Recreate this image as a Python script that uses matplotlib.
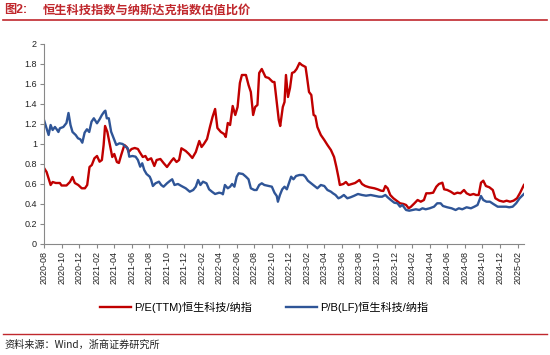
import matplotlib
matplotlib.use("Agg")
import matplotlib.pyplot as plt
import matplotlib.dates as mdates
import pandas as pd
from matplotlib.lines import Line2D

plt.rcParams['font.family'] = ['Liberation Sans', 'Noto Sans CJK SC', 'DejaVu Sans']

title_prefix = "图2:"
title_text = "恒生科技指数与纳斯达克指数估值比价"
source_text = "资料来源：Wind，浙商证券研究所"
label_pe = "P/E(TTM)恒生科技/纳指"
label_pb = "P/B(LF)恒生科技/纳指"

pe_dates = ["2020-08-01","2020-08-10","2020-08-24","2020-08-31","2020-09-11","2020-09-25","2020-10-01","2020-10-18",
"2020-10-30","2020-11-08","2020-11-16","2020-11-28","2020-12-10","2020-12-21","2020-12-29","2021-01-06","2021-01-14",
"2021-01-23","2021-02-01","2021-02-10","2021-02-18","2021-02-24","2021-03-01","2021-03-09","2021-03-17","2021-03-26",
"2021-04-02","2021-04-11","2021-04-18","2021-04-26","2021-05-07","2021-05-15","2021-05-22","2021-06-01","2021-06-12",
"2021-06-23","2021-06-29","2021-07-10","2021-07-19","2021-07-27","2021-08-08","2021-08-19","2021-08-27","2021-09-09",
"2021-09-20","2021-10-02","2021-10-17","2021-10-25","2021-11-04","2021-11-13","2021-11-21","2021-12-06","2021-12-17",
"2021-12-29","2022-01-10","2022-01-22","2022-01-30","2022-02-07","2022-02-18","2022-02-28","2022-03-09","2022-03-18",
"2022-03-26","2022-04-07","2022-04-18","2022-04-24","2022-05-01","2022-05-09","2022-05-18","2022-05-27","2022-06-04",
"2022-06-12","2022-06-19","2022-07-03","2022-07-12","2022-07-20","2022-07-28","2022-08-04","2022-08-12","2022-08-18",
"2022-08-27","2022-09-09","2022-09-20","2022-10-04","2022-10-10","2022-10-18","2022-10-25","2022-10-30","2022-11-08",
"2022-11-14","2022-11-19","2022-11-26","2022-12-03","2022-12-10","2022-12-18","2022-12-26","2023-01-05","2023-01-13",
"2023-01-26","2023-01-31","2023-02-07","2023-02-15","2023-02-23","2023-03-01","2023-03-08","2023-03-20","2023-04-01",
"2023-04-12","2023-04-24","2023-05-05","2023-05-13","2023-05-20","2023-05-25","2023-06-06","2023-06-15","2023-06-24",
"2023-07-06","2023-07-17","2023-08-01","2023-08-10","2023-08-21","2023-09-04","2023-09-22","2023-10-03","2023-10-15",
"2023-10-23","2023-10-30","2023-11-07","2023-11-16","2023-11-27","2023-12-08","2023-12-20","2024-01-01","2024-01-10",
"2024-01-19","2024-01-27","2024-02-08","2024-02-19","2024-03-01","2024-03-12","2024-03-20","2024-04-01","2024-04-13",
"2024-04-24","2024-05-03","2024-05-15","2024-05-21","2024-06-01","2024-06-13","2024-06-25","2024-07-06","2024-07-17",
"2024-07-29","2024-08-07","2024-08-19","2024-08-31","2024-09-09","2024-09-18","2024-09-26","2024-10-04","2024-10-13",
"2024-10-25","2024-11-06","2024-11-15","2024-11-29","2024-12-13","2024-12-24","2025-01-05","2025-01-17","2025-01-29",
"2025-02-09","2025-02-22"]
pe_values = [0.76,0.72,0.59,0.62,0.61,0.61,0.585,0.585,
0.62,0.67,0.61,0.59,0.557,0.557,0.59,0.77,0.79,
0.857,0.88,0.823,0.84,0.99,1.18,1.12,1.0,0.87,
0.9,0.82,0.81,0.89,0.99,0.97,0.92,0.95,0.96,
0.95,0.92,0.87,0.88,0.84,0.857,0.78,0.84,0.85,
0.81,0.77,0.83,0.857,0.82,0.84,0.957,0.93,0.9,
0.86,0.92,1.03,0.97,1.0,1.05,1.17,1.27,1.35,
1.16,1.12,1.10,1.07,1.21,1.19,1.38,1.29,1.37,
1.61,1.69,1.69,1.59,1.52,1.29,1.37,1.39,1.71,
1.75,1.67,1.66,1.62,1.62,1.42,1.24,1.18,1.37,
1.42,1.69,1.47,1.56,1.71,1.72,1.75,1.81,1.79,
1.77,1.67,1.52,1.49,1.29,1.28,1.17,1.09,1.04,
0.99,0.94,0.87,0.77,0.67,0.59,0.60,0.62,0.59,
0.60,0.61,0.64,0.60,0.58,0.567,0.557,0.547,0.533,
0.53,0.58,0.557,0.49,0.457,0.433,0.407,0.40,0.39,
0.357,0.373,0.407,0.44,0.423,0.44,0.507,0.507,0.513,
0.573,0.60,0.613,0.547,0.54,0.523,0.50,0.513,0.507,
0.54,0.507,0.49,0.50,0.49,0.49,0.613,0.633,0.58,
0.567,0.54,0.457,0.433,0.423,0.433,0.423,0.433,0.457,
0.513,0.59]

pb_dates = ["2020-08-01","2020-08-10","2020-08-17","2020-08-24","2020-08-31","2020-09-08","2020-09-14","2020-09-20",
"2020-09-25","2020-10-07","2020-10-18","2020-10-25","2020-11-01","2020-11-08","2020-11-19","2020-11-27","2020-12-05",
"2020-12-12","2020-12-20","2020-12-28","2021-01-05","2021-01-13","2021-01-21","2021-02-01","2021-02-10","2021-02-18",
"2021-02-26","2021-03-02","2021-03-07","2021-03-14","2021-03-22","2021-03-31","2021-04-09","2021-04-20","2021-05-01",
"2021-05-11","2021-05-19","2021-05-24","2021-06-04","2021-06-15","2021-06-23","2021-07-01","2021-07-08","2021-07-15",
"2021-07-23","2021-08-03","2021-08-08","2021-08-14","2021-08-23","2021-09-04","2021-09-12","2021-09-20","2021-10-02",
"2021-10-13","2021-10-20","2021-10-28","2021-11-09","2021-11-21","2021-12-06","2021-12-20","2022-01-01","2022-01-10",
"2022-01-18","2022-01-26","2022-02-04","2022-02-16","2022-02-25","2022-03-07","2022-03-18","2022-04-01","2022-04-10",
"2022-04-14","2022-04-21","2022-05-01","2022-05-09","2022-05-16","2022-05-24","2022-06-01","2022-06-08","2022-06-22",
"2022-07-03","2022-07-12","2022-07-20","2022-08-01","2022-08-09","2022-08-18","2022-08-27","2022-09-05","2022-09-20",
"2022-10-01","2022-10-10","2022-10-18","2022-10-22","2022-10-29","2022-11-06","2022-11-14","2022-11-22","2022-11-29",
"2022-12-07","2022-12-15","2022-12-24","2023-01-05","2023-01-18","2023-01-25","2023-02-03","2023-02-14","2023-02-26",
"2023-03-08","2023-03-20","2023-04-01","2023-04-12","2023-04-24","2023-05-01","2023-05-10","2023-05-20","2023-05-28",
"2023-06-08","2023-06-20","2023-07-01","2023-07-12","2023-07-27","2023-08-10","2023-08-24","2023-09-09","2023-09-26",
"2023-10-08","2023-10-19","2023-10-30","2023-11-07","2023-11-18","2023-11-30","2023-12-11","2023-12-20","2023-12-28",
"2024-01-10","2024-01-21","2024-02-02","2024-02-13","2024-02-25","2024-03-07","2024-03-18","2024-04-01","2024-04-16",
"2024-04-27","2024-05-09","2024-05-17","2024-06-01","2024-06-16","2024-06-30","2024-07-11","2024-07-23","2024-08-07",
"2024-08-22","2024-09-03","2024-09-14","2024-09-26","2024-10-04","2024-10-15","2024-10-27","2024-11-08","2024-11-23",
"2024-12-08","2024-12-22","2025-01-02","2025-01-14","2025-01-26","2025-02-07","2025-02-22"]
pb_values = [1.24,1.157,1.09,1.19,1.14,1.17,1.147,1.12,
1.157,1.17,1.21,1.31,1.19,1.12,1.09,1.057,1.047,
1.013,1.113,1.147,1.12,1.223,1.257,1.207,1.247,1.29,
1.323,1.333,1.257,1.257,1.123,1.057,0.99,1.007,1.0,
0.973,0.957,0.873,0.88,0.873,0.84,0.773,0.807,0.74,
0.70,0.673,0.64,0.58,0.607,0.623,0.59,0.573,0.607,
0.633,0.647,0.59,0.60,0.58,0.557,0.523,0.54,0.573,
0.64,0.59,0.623,0.607,0.547,0.523,0.50,0.513,0.507,
0.497,0.59,0.557,0.573,0.60,0.573,0.673,0.707,0.70,
0.673,0.647,0.557,0.54,0.54,0.59,0.607,0.59,0.58,
0.573,0.513,0.48,0.423,0.49,0.547,0.573,0.547,0.607,
0.673,0.647,0.68,0.69,0.69,0.673,0.633,0.607,0.58,
0.557,0.59,0.58,0.54,0.523,0.507,0.49,0.457,0.467,
0.49,0.457,0.467,0.48,0.50,0.49,0.483,0.49,0.48,
0.473,0.473,0.49,0.467,0.44,0.413,0.407,0.373,0.39,
0.34,0.333,0.34,0.347,0.34,0.357,0.347,0.357,0.373,
0.407,0.407,0.38,0.367,0.357,0.34,0.357,0.347,0.367,
0.357,0.373,0.39,0.48,0.44,0.423,0.423,0.40,0.373,
0.373,0.373,0.367,0.373,0.407,0.457,0.50]

red = "#C00000"
blue = "#2F5597"
title_red = "#C0282D"

fig = plt.figure(figsize=(5.5, 3.55), dpi=100)
ax = fig.add_axes([0.08, 0.3127, 0.8736, 0.5634])

ax.plot(pd.to_datetime(pe_dates), pe_values, color=red, lw=1.7, label=label_pe)
ax.plot(pd.to_datetime(pb_dates), pb_values, color=blue, lw=1.7, label=label_pb)

ax.set_ylim(0, 2)
ax.set_yticks([0, 0.2, 0.4, 0.6, 0.8, 1, 1.2, 1.4, 1.6, 1.8, 2])
ax.set_yticklabels(["0", "0.2", "0.4", "0.6", "0.8", "1", "1.2", "1.4", "1.6", "1.8", "2"])
ax.set_xlim(pd.Timestamp("2020-08-01"), pd.Timestamp("2025-02-24"))
ax.xaxis.set_major_locator(mdates.MonthLocator(bymonth=[2, 4, 6, 8, 10, 12]))
ax.xaxis.set_major_formatter(mdates.DateFormatter("%Y-%m"))
for lbl in ax.get_xticklabels():
    lbl.set_rotation(90)
ax.tick_params(axis='both', labelsize=6.5, length=3, width=0.8, direction='out', pad=2,
               colors='#888888', labelcolor='#222222')
for s in ['top', 'right']:
    ax.spines[s].set_visible(False)
for s in ['left', 'bottom']:
    ax.spines[s].set_color('#888888')
    ax.spines[s].set_linewidth(0.8)

handles = [Line2D([], [], color=red, lw=1.7), Line2D([], [], color=blue, lw=1.7)]
leg = fig.legend(handles, [label_pe, label_pb], loc='center', bbox_to_anchor=(0.48, 0.135), ncol=2,
                 frameon=False, handlelength=2.8, columnspacing=3.0, handletextpad=0.3,
                 prop={'family': ['Liberation Sans', 'Noto Sans CJK SC'], 'size': 8})

fig.text(0.008, 0.972, title_prefix, color=title_red, fontsize=8.8, fontweight='bold', va='center',
         family=['Liberation Sans', 'Noto Sans CJK SC'])
fig.text(0.078, 0.972, title_text, color=title_red, fontsize=8.8, fontweight='bold', va='center',
         family=['Noto Sans CJK SC'])
fig.add_artist(Line2D([0.005, 0.995], [0.943, 0.943], color=title_red, lw=1.2, transform=fig.transFigure))
fig.add_artist(Line2D([0.005, 0.995], [0.06, 0.06], color=title_red, lw=1.0, transform=fig.transFigure))
fig.text(0.008, 0.028, source_text, color='#222222', fontsize=7.3, va='center',
         family=['Noto Sans CJK SC', 'Liberation Sans'])

fig.savefig("out.png", dpi=100)
